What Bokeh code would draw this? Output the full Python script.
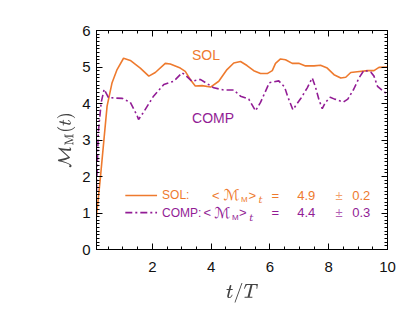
from bokeh.plotting import figure
from bokeh.models import Range1d, LinearAxis, SingleIntervalTicker, CustomJSTickFormatter
from bokeh.core.properties import value
from bokeh.embed import file_html
from bokeh.resources import INLINE

# --- data ---
sol_t = [0.1, 0.23, 0.46, 0.63, 0.8, 1.02, 1.25, 1.59, 1.88, 2.1, 2.44, 2.61, 2.95, 3.12,
         3.29, 3.46, 3.69, 3.98, 4.26, 4.54, 4.77, 5.0, 5.22, 5.45, 5.68, 5.91, 6.08,
         6.19, 6.36, 6.53, 6.76, 6.98, 7.21, 7.5, 7.72, 7.95, 8.18, 8.41, 8.58, 8.75,
         8.97, 9.32, 9.54, 9.71, 10.0]
sol_m = [0.92, 1.95, 3.93, 4.57, 4.93, 5.24, 5.18, 4.97, 4.75, 4.85, 5.1, 5.08, 4.97, 4.88,
         4.66, 4.48, 4.49, 4.45, 4.61, 4.93, 5.11, 5.15, 5.04, 4.9, 4.82, 4.82, 4.9,
         5.1, 5.22, 5.2, 5.1, 5.1, 5.03, 5.03, 5.05, 4.97, 4.79, 4.7, 4.72, 4.85,
         4.87, 4.9, 4.9, 4.99, 5.0]

comp_t = [0.1, 0.16, 0.26, 0.36, 0.51, 0.74, 0.98, 1.25, 1.48, 1.53, 1.7, 2.04, 2.39, 2.73,
          3.01, 3.12, 3.35, 3.63, 3.81, 4.09, 4.43, 4.77, 5.0, 5.28, 5.51, 5.68, 5.98,
          6.3, 6.5, 6.6, 6.78, 7.06, 7.27, 7.44, 7.55, 7.67, 7.78, 7.89, 8.05, 8.2,
          8.5, 8.65, 8.85, 9.03, 9.2, 9.43, 9.54, 9.66, 9.85, 10.0]
comp_m = [1.59, 3.2, 4.03, 4.39, 4.16, 4.15, 4.14, 4.03, 3.67, 3.56, 3.76, 4.2, 4.52, 4.61,
          4.84, 4.78, 4.61, 4.66, 4.57, 4.43, 4.37, 4.37, 4.2, 4.12, 3.8, 4.03, 4.57,
          4.62, 4.45, 4.2, 3.83, 4.15, 4.43, 4.7, 4.45, 4.1, 3.86, 4.03, 4.17, 4.12,
          4.04, 4.12, 4.39, 4.7, 4.91, 4.86, 4.75, 4.47, 4.34, 4.25]

series_names = ["SOL", "COMP"]
means = ["4.9", "4.4"]
errors = ["0.2", "0.3"]
x_ticks_interval = 2
y_ticks_interval = 1

ORANGE = "#EE7A2E"
PURPLE = "#921C95"
FONT = "Liberation Sans"

W, H = 407, 305
p = figure(width=W, height=H, output_backend="svg", toolbar_location=None,
           x_range=Range1d(0.1, 10), y_range=Range1d(0, 6),
           min_border_left=96, min_border_right=20, min_border_top=30, min_border_bottom=53)
p.grid.visible = False
p.outline_line_color = "black"
p.outline_line_width = 1
p.background_fill_color = "white"
p.border_fill_color = "white"

p.xaxis.ticker = SingleIntervalTicker(interval=x_ticks_interval, num_minor_ticks=4)
p.yaxis.ticker = SingleIntervalTicker(interval=y_ticks_interval, num_minor_ticks=10)


def style_axis(ax):
    ax.major_tick_in = 6
    ax.major_tick_out = 0
    ax.minor_tick_in = 3
    ax.minor_tick_out = 0
    ax.axis_line_color = "black"
    ax.major_tick_line_color = "black"
    ax.minor_tick_line_color = "black"
    ax.major_label_text_font = FONT
    ax.major_label_text_font_size = "15px"
    ax.major_label_text_color = "#111111"


style_axis(p.xaxis[0])
style_axis(p.yaxis[0])
p.xaxis.major_label_standoff = 12
p.yaxis.major_label_standoff = 6
p.xaxis.axis_label = r"$$t/T$$"
p.xaxis.axis_label_text_font_size = "16px"
p.xaxis.axis_label_standoff = 8
p.yaxis.axis_label = r"$$\mathcal{M}_\mathrm{M}(t)$$"
p.yaxis.axis_label_text_font_size = "15px"
p.yaxis.axis_label_standoff = 4

blank = CustomJSTickFormatter(code="return ''")
top = LinearAxis(ticker=SingleIntervalTicker(interval=x_ticks_interval, num_minor_ticks=4),
                 formatter=blank)
right = LinearAxis(ticker=SingleIntervalTicker(interval=y_ticks_interval, num_minor_ticks=10),
                   formatter=blank)
style_axis(top)
style_axis(right)
top.major_label_standoff = 0
right.major_label_standoff = 0
p.add_layout(top, "above")
p.add_layout(right, "right")

p.line(sol_t, sol_m, color=ORANGE, line_width=1.6)
p.line(comp_t, comp_m, color=PURPLE, line_width=1.6, line_dash="7 3 2 3")

# curve labels
p.text([3.35], [5.33], text=[series_names[0]], text_color=ORANGE, text_font=value(FONT),
       text_font_size="14px", text_baseline="middle")
p.text([3.35], [3.6], text=[series_names[1]], text_color=PURPLE, text_font=value(FONT),
       text_font_size="14px", text_baseline="middle")

# legend
rows_y = [1.48, 1.01]
colors = [ORANGE, PURPLE]
dashes = ["solid", "7 3 2 3"]
lt_pos = [[4.03, 4.42, 5.02, 5.27, 5.61], [3.74, 4.11, 4.71, 4.95, 5.3]]
for i in range(2):
    y = rows_y[i]
    c = colors[i]
    p.line([1.08, 2.16], [y, y], color=c, line_width=1.6, line_dash=dashes[i])
    p.text([2.33], [y], text=[series_names[i] + ":"], text_color=c, text_font=value(FONT),
           text_font_size="12px", text_baseline="middle")
    xs = lt_pos[i]
    p.text([xs[0]], [y], text=["<"], text_color=c, text_font=value(FONT),
           text_font_size="13px", text_baseline="middle")
    p.text([xs[1]], [y], text=["\u2133"], text_color=c, text_font=value("DejaVu Sans"),
           text_font_size="15px", text_baseline="middle")
    p.text([xs[2]], [y - 0.12], text=["M"], text_color=c, text_font=value(FONT),
           text_font_size="8px", text_baseline="middle")
    p.text([xs[3]], [y], text=[">"], text_color=c, text_font=value(FONT),
           text_font_size="13px", text_baseline="middle")
    p.text([xs[4]], [y - 0.12], text=["t"], text_color=c, text_font=value("DejaVu Serif"),
           text_font_style="italic", text_font_size="10px", text_baseline="middle")
    p.text([6.05], [y], text=["="], text_color=c, text_font=value(FONT),
           text_font_size="13px", text_baseline="middle")
    p.text([6.93], [y], text=[means[i]], text_color=c, text_font=value(FONT),
           text_font_size="13px", text_baseline="middle")
    p.text([8.23], [y], text=["\u00b1"], text_color=c, text_font=value(FONT),
           text_font_size="13px", text_baseline="middle", text_alpha=0.7)
    p.text([8.8], [y], text=[errors[i]], text_color=c, text_font=value(FONT),
           text_font_size="13px", text_baseline="middle")

open("out.html", "w").write(file_html(p, INLINE))
